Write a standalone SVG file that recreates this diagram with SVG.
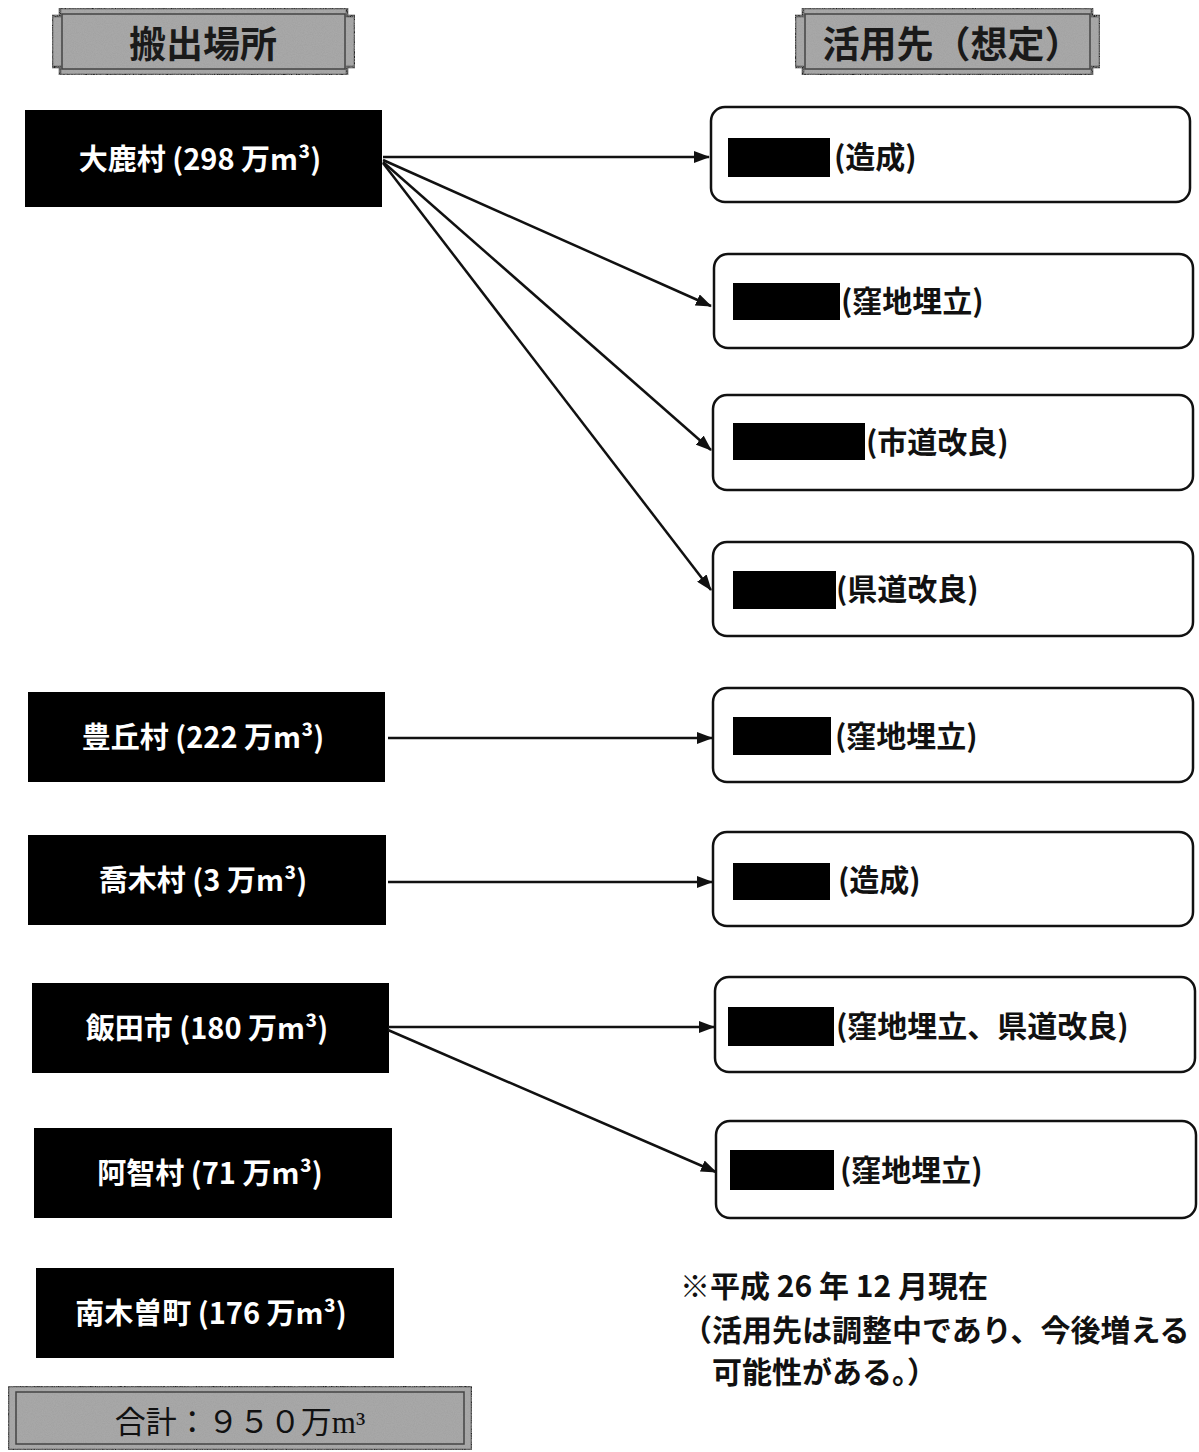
<svg xmlns="http://www.w3.org/2000/svg" width="1199" height="1452" viewBox="0 0 1199 1452">
<style>
.src{fill:#000}
.srct{fill:#fff;font-family:"Noto Sans CJK JP","DejaVu Sans",sans-serif;font-weight:bold;font-size:29px;text-anchor:middle}
.dst{fill:#fff;stroke:#111;stroke-width:2.5}
.dstt{fill:#111;font-family:"Noto Sans CJK JP","DejaVu Sans",sans-serif;font-weight:bold;font-size:30px}
.red{fill:#000}
.hdr{fill:#a9a9a9;stroke:#222;stroke-width:2.5}
.hdri{fill:none;stroke:#444;stroke-width:1.5}
.hdrt{fill:#1a1a1a;font-family:"Noto Sans CJK JP",sans-serif;font-weight:bold;font-size:37px;text-anchor:middle}
.note{fill:#111;font-family:"Noto Sans CJK JP",sans-serif;font-weight:bold;font-size:30px}
.con{stroke:#111;stroke-width:2.5;fill:none;marker-end:url(#ah)}
</style>
<defs>
<marker id="ah" markerWidth="16" markerHeight="12" refX="15" refY="6" orient="auto" markerUnits="userSpaceOnUse">
<path d="M0,0 L16,6 L0,12 Z" fill="#111"/>
</marker>
<filter id="grain" x="0" y="0" width="100%" height="100%">
<feTurbulence type="fractalNoise" baseFrequency="0.9" numOctaves="2" seed="3" result="n"/>
<feColorMatrix in="n" type="matrix" values="0 0 0 0 0.35  0 0 0 0 0.35  0 0 0 0 0.35  0 0 0 1.2 -0.3" result="g"/>
<feComposite in="g" in2="SourceGraphic" operator="in" result="gi"/>
<feMerge><feMergeNode in="SourceGraphic"/><feMergeNode in="gi"/></feMerge>
</filter>
</defs>
<rect width="1199" height="1452" fill="#fff"/>

<g id="header-left">
<path class="hdr" filter="url(#grain)" d="M60,8 H347 V16 H355 V67 H347 V75 H60 V67 H52 V16 H60 Z"/>
<rect class="hdri" x="62" y="14" width="283" height="55"/>
<text class="hdrt" x="203" y="58">搬出場所</text>
</g>
<g id="header-right">
<path class="hdr" filter="url(#grain)" d="M803,8 H1092 V16 H1100 V67 H1092 V75 H803 V67 H795 V16 H803 Z"/>
<rect class="hdri" x="805" y="14" width="285" height="55"/>
<text class="hdrt" x="952" y="58">活用先（想定）</text>
</g>

<g id="src-ooshika"><rect class="src" x="25" y="110" width="357" height="97"/><text class="srct" x="200" y="170">大鹿村 (298 万m³)</text></g>
<g id="src-toyooka"><rect class="src" x="28" y="692" width="357" height="90"/><text class="srct" x="203" y="748">豊丘村 (222 万m³)</text></g>
<g id="src-takagi"><rect class="src" x="28" y="835" width="358" height="90"/><text class="srct" x="203" y="891">喬木村 (3 万m³)</text></g>
<g id="src-iida"><rect class="src" x="32" y="983" width="357" height="90"/><text class="srct" x="207" y="1039">飯田市 (180 万m³)</text></g>
<g id="src-achi"><rect class="src" x="34" y="1128" width="358" height="90"/><text class="srct" x="210" y="1184">阿智村 (71 万m³)</text></g>
<g id="src-nagiso"><rect class="src" x="36" y="1268" width="358" height="90"/><text class="srct" x="211" y="1324">南木曽町 (176 万m³)</text></g>

<g id="dst-1"><rect class="dst" x="711" y="107" width="479" height="95" rx="14"/><rect class="red" x="728" y="138" width="102" height="39"/><text class="dstt" x="834" y="168">(造成)</text></g>
<g id="dst-2"><rect class="dst" x="714" y="254" width="479" height="94" rx="14"/><rect class="red" x="733" y="283" width="107" height="37"/><text class="dstt" x="841" y="312">(窪地埋立)</text></g>
<g id="dst-3"><rect class="dst" x="713" y="395" width="480" height="95" rx="14"/><rect class="red" x="733" y="423" width="132" height="37"/><text class="dstt" x="866" y="453">(市道改良)</text></g>
<g id="dst-4"><rect class="dst" x="713" y="542" width="480" height="94" rx="14"/><rect class="red" x="733" y="571" width="103" height="38"/><text class="dstt" x="836" y="600">(県道改良)</text></g>
<g id="dst-5"><rect class="dst" x="713" y="688" width="480" height="94" rx="14"/><rect class="red" x="733" y="717" width="98" height="38"/><text class="dstt" x="835" y="747">(窪地埋立)</text></g>
<g id="dst-6"><rect class="dst" x="713" y="832" width="480" height="94" rx="14"/><rect class="red" x="733" y="863" width="97" height="37"/><text class="dstt" x="838" y="891">(造成)</text></g>
<g id="dst-7"><rect class="dst" x="715" y="977" width="480" height="95" rx="14"/><rect class="red" x="728" y="1007" width="106" height="39"/><text class="dstt" x="836" y="1037">(窪地埋立、県道改良)</text></g>
<g id="dst-8"><rect class="dst" x="716" y="1121" width="480" height="97" rx="14"/><rect class="red" x="730" y="1150" width="104" height="40"/><text class="dstt" x="840" y="1181">(窪地埋立)</text></g>

<g id="connectors">
<line class="con" x1="383" y1="157" x2="709" y2="157"/>
<line class="con" x1="383" y1="160" x2="711" y2="306"/>
<line class="con" x1="383" y1="162" x2="711" y2="450"/>
<line class="con" x1="383" y1="163" x2="711" y2="590"/>
<line class="con" x1="388" y1="738" x2="712" y2="738"/>
<line class="con" x1="388" y1="882" x2="712" y2="882"/>
<line class="con" x1="388" y1="1027" x2="714" y2="1027"/>
<line class="con" x1="388" y1="1030" x2="716" y2="1172"/>
</g>

<g id="note">
<text class="note" x="680" y="1297">※平成 26 年 12 月現在</text>
<text class="note" x="682" y="1341">（活用先は調整中であり、今後増える</text>
<text class="note" x="712" y="1383">可能性がある。）</text>
</g>

<g id="total">
<rect class="hdr" filter="url(#grain)" x="8" y="1386" width="464" height="64"/>
<rect class="hdri" x="16" y="1392" width="448" height="52"/>
<text x="240" y="1433" text-anchor="middle" font-family="Liberation Serif, 'Noto Sans CJK JP', serif" font-size="31" fill="#111">合計：９５０万m³</text>
</g>
</svg>
